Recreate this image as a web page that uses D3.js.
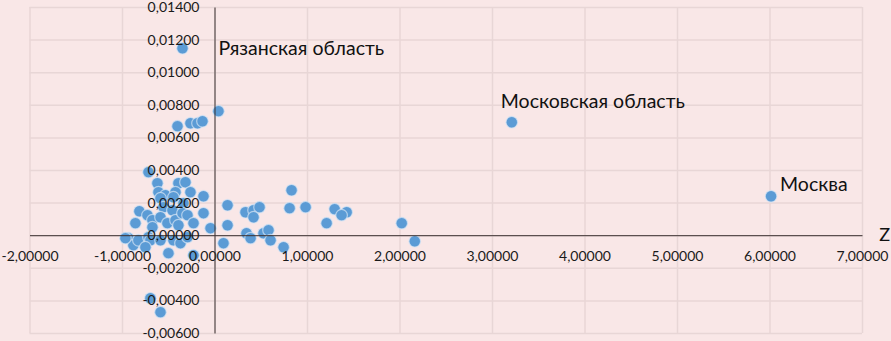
<!DOCTYPE html>
<html>
<head>
<meta charset="utf-8">
<script src="https://cdn.jsdelivr.net/npm/d3@7"></script>
<style>
  html, body { margin: 0; padding: 0; background: #f9e7e7; }
  svg { display: block; }
  .tick text { font-family: Lato, "Open Sans", sans-serif; font-size: 14px; fill: #1a1a1a; }
</style>
</head>
<body>
<svg id="chart"></svg>
<script>
// Z values (x) of the regions
const zValues = [
  -0.346, 0.043, -0.400, -0.260, -0.184, -0.130, 3.214, 6.017,
  -0.714, -0.617, -0.390, -0.314, -0.606, -0.530, -0.422, -0.260,
  -0.119, -0.444, -0.584, -0.335, -0.552, -0.455, 0.141, -0.812,
  -0.725, -0.671, -0.855, -0.584, -0.509, -0.422, -0.346, -0.292,
  -0.119, -0.227, -0.390, -0.671, -0.043, 0.141, -0.931, -0.877,
  -0.823, -0.714, -0.693, -0.584, -0.444, -0.368, -0.292, -0.498,
  -0.227, 0.097, 0.335, 0.422, 0.487, 0.422, 0.346, 0.390,
  0.530, 0.584, 0.606, 0.747, 0.833, 0.812, 0.985, 1.299,
  1.429, 1.374, 1.212, 2.024, 2.165, -0.693, -0.584, -0.963, -0.747
];

// second variable (y)
const yValues = [
  0.01147, 0.00761, 0.00669, 0.00687, 0.00687, 0.00699, 0.00693, 0.00239,
  0.00387, 0.00319, 0.00319, 0.00325, 0.00264, 0.00245, 0.00264, 0.00264,
  0.00239, 0.00233, 0.00227, 0.00196, 0.00172, 0.00153, 0.00184, 0.00147,
  0.00123, 0.00092, 0.00074, 0.00110, 0.00074, 0.00092, 0.00135, 0.00123,
  0.00135, 0.00074, 0.00061, 0.00049, 0.00043, 0.00061, -0.00018, -0.00061,
  -0.00031, -0.00012, -0.00031, -0.00031, -0.00031, -0.00049, -0.00012, -0.00110,
  -0.00123, -0.00049, 0.00141, 0.00153, 0.00172, 0.00110, 0.00012, -0.00018,
  0.00012, 0.00031, -0.00031, -0.00074, 0.00276, 0.00166, 0.00172, 0.00160,
  0.00141, 0.00123, 0.00074, 0.00074, -0.00037, -0.00387, -0.00472, -0.00018, -0.00074
];

// labelled points (index into the arrays above)
const labelNames = ['Рязанская область', 'Московская область', 'Москва'];
const labelIndex = [0, 6, 7];

const xTicks = [-2, -1, 0, 1, 2, 3, 4, 5, 6, 7];
const yTicks = [-0.006, -0.004, -0.002, 0, 0.002, 0.004, 0.006, 0.008, 0.010, 0.012, 0.014];

// label offsets from their point, px
const labelOffset = [[36, 7], [-11, -14], [9, -5]];

const W = 891, H = 341;
const plot = { left: 29.5, right: 862, top: 7, bottom: 333 };

const svg = d3.select('#chart').attr('width', W).attr('height', H);

const x = d3.scaleLinear().domain([-2, 7]).range([plot.left, plot.right]);
const y = d3.scaleLinear().domain([-0.006, 0.014]).range([plot.bottom, plot.top]);

const fmt = v => (v < -1e-12 ? '-' : '') + Math.abs(v).toFixed(5).replace('.', ',');

// gridlines
svg.append('g')
  .attr('transform', `translate(0,${plot.bottom})`)
  .call(d3.axisBottom(x).tickValues(xTicks).tickSize(-(plot.bottom - plot.top)).tickFormat(''))
  .call(g => g.select('.domain').remove())
  .call(g => g.selectAll('line').attr('stroke', '#e8d6d6').attr('stroke-width', 1.5));

svg.append('g')
  .attr('transform', `translate(${plot.left},0)`)
  .call(d3.axisLeft(y).tickValues(yTicks).tickSize(-(plot.right - plot.left)).tickFormat(''))
  .call(g => g.select('.domain').remove())
  .call(g => g.selectAll('line').attr('stroke', '#e8d6d6').attr('stroke-width', 1.5));

// points
const pts = zValues.map((z, i) => ({ z: z, v: yValues[i] }));
svg.append('g')
  .selectAll('circle')
  .data(pts)
  .enter()
  .append('circle')
  .attr('cx', d => x(d.z))
  .attr('cy', d => y(d.v))
  .attr('r', 5.8)
  .attr('fill', '#5b9bd5')
  .attr('stroke', '#d7e6f5')
  .attr('stroke-opacity', 0.7)
  .attr('stroke-width', 1.2);

// axes through zero, drawn over the points like the original
svg.append('g')
  .attr('transform', `translate(0,${y(0)})`)
  .call(d3.axisBottom(x).tickValues(xTicks).tickSize(0).tickSizeOuter(0).tickPadding(16).tickFormat(fmt))
  .call(g => g.select('.domain').attr('stroke', '#3a3030'));

svg.append('g')
  .attr('transform', `translate(${x(0)},0)`)
  .call(d3.axisLeft(y).tickValues(yTicks).tickSize(0).tickSizeOuter(0).tickPadding(15).tickFormat(fmt))
  .call(g => g.select('.domain').attr('stroke', '#3a3030'));

// data labels
svg.append('g')
  .selectAll('text')
  .data(labelNames)
  .enter()
  .append('text')
  .attr('x', (d, i) => x(zValues[labelIndex[i]]) + labelOffset[i][0])
  .attr('y', (d, i) => y(yValues[labelIndex[i]]) + labelOffset[i][1])
  .attr('font-family', 'Lato, "Open Sans", sans-serif')
  .attr('font-size', '19.5px')
  .attr('fill', '#111')
  .text(d => d);

// axis title
svg.append('text')
  .attr('x', 890)
  .attr('y', y(0) + 6)
  .attr('text-anchor', 'end')
  .attr('font-family', 'Lato, "Open Sans", sans-serif')
  .attr('font-size', '18px')
  .attr('fill', '#111')
  .text('Z');
</script>
</body>
</html>
